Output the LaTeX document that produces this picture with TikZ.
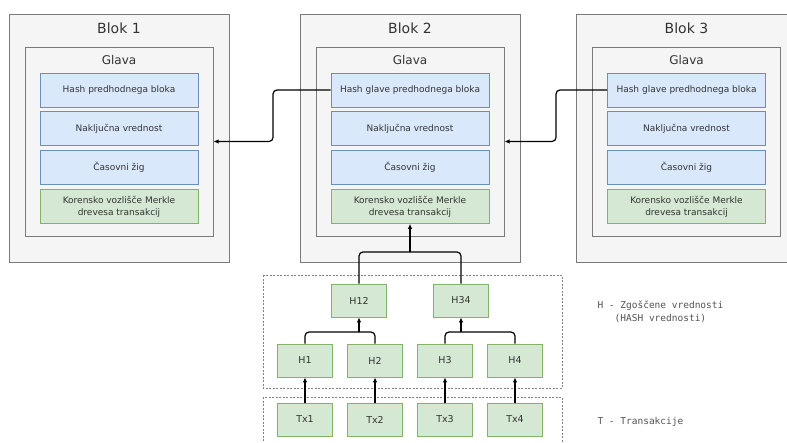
\documentclass[tikz,border=0pt]{standalone}
\usepackage{fontspec}
\setmainfont{DejaVu Sans}
\newfontfamily\legendfont{DejaVu Sans Mono}
\usetikzlibrary{positioning,arrows.meta}
\definecolor{blockgray}{HTML}{F5F5F5}
\definecolor{blockline}{HTML}{7A7A7A}
\definecolor{hashblue}{HTML}{DAE8FC}
\definecolor{hashline}{HTML}{6C8EBF}
\definecolor{leafgreen}{HTML}{D5E8D4}
\definecolor{leafline}{HTML}{82B366}
\definecolor{textgray}{HTML}{333333}
\tikzset{
    block/.style={draw=blockline,fill=blockgray,line width=1pt,minimum width=220pt,minimum height=248pt},
    header/.style={draw=blockline,fill=blockgray,line width=1pt,minimum width=188pt,minimum height=189pt},
    field/.style={draw=hashline,fill=hashblue,line width=0.8pt,minimum width=158pt,minimum height=34pt,inner sep=1pt,text=textgray,font=\fontsize{9}{12}\selectfont},
    root/.style={field,draw=leafline,fill=leafgreen,align=center},
    leaf/.style={draw=leafline,fill=leafgreen,line width=0.8pt,minimum width=55pt,minimum height=33pt,text=textgray,font=\fontsize{9.5}{11}\selectfont},
    title/.style={text=textgray,font=\fontsize{14}{16}\selectfont},
    subtitle/.style={text=textgray,font=\fontsize{12}{14}\selectfont},
    wire/.style={line width=1.2pt,rounded corners=4pt},
    link/.style={wire,-{Latex[length=5pt,width=4.5pt]}},
    group/.style={draw=gray,dash pattern=on 2pt off 1.5pt,line width=0.6pt},
    legend/.style={text=textgray!85,font=\legendfont\fontsize{9.5}{13}\selectfont,align=center}
}

\begin{document}
\begin{tikzpicture}[x=1pt,y=-1pt]
    \useasboundingbox (0,0) rectangle (787,442);
    \clip (0,0) rectangle (787,442);

    % blocks with their headers
    \foreach \i/\cx/\hashtext in {1/119/Hash predhodnega bloka,2/410/Hash glave predhodnega bloka,3/686.5/Hash glave predhodnega bloka}{
        \node[block] (b\i) at (\cx,138) {};
        \node[title] (t\i) at (\cx,28) {Blok \i};
        \node[header] (g\i) at (\cx,141.5) {};
        \node[subtitle] (gt\i) at (\cx,60) {Glava};
        \node[field] (hash\i) at (\cx,90) {\hashtext};
        \node[field, below=4pt of hash\i] (nonce\i) {Naključna vrednost};
        \node[field, below=4pt of nonce\i] (time\i) {Časovni žig};
        \node[root, below=4pt of time\i] (root\i) {Korensko vozlišče Merkle\\drevesa transakcij};
    }

    \coordinate (bend12) at (273,115);
    \coordinate (bend23) at (556,115);
    \draw[link] (hash2.west) -| (bend12) |- (g1.east);
    \draw[link] (hash3.west) -| (bend23) |- (g2.east);

    % merkle tree
    \draw[group] (263,275) rectangle (562,388);
    \draw[group] (263,397) rectangle (562,450);

    \node[leaf] (h12) at (359,300.5) {H12};
    \node[leaf] (h34) at (461,300.5) {H34};
    \node[leaf] (h1) at (305,360.5) {H1};
    \node[leaf] (h2) at (375,360.5) {H2};
    \node[leaf] (h3) at (445,360.5) {H3};
    \node[leaf] (h4) at (515,360.5) {H4};
    \node[leaf] (tx1) at (305,419.5) {Tx1};
    \node[leaf] (tx2) at (375,419.5) {Tx2};
    \node[leaf] (tx3) at (445,419.5) {Tx3};
    \node[leaf] (tx4) at (515,419.5) {Tx4};

    \coordinate (j0) at (410,252);
    \coordinate (j12) at (359,332);
    \coordinate (j34) at (461,332);
    \draw[wire] (h12.north) |- (j0) -| (h34.north);
    \draw[link] (j0) -- (root2.south);
    \draw[wire] (h1.north) |- (j12) -| (h2.north);
    \draw[link] (j12) -- (h12.south);
    \draw[wire] (h3.north) |- (j34) -| (h4.north);
    \draw[link] (j34) -- (h34.south);
    \foreach \n in {1,2,3,4}
        \draw[link] (tx\n.north) -- (h\n.south);

    \node[legend, anchor=west] (lh) at (594,312) {H - Zgoščene vrednosti\\(HASH vrednosti)};
    \node[legend, anchor=west] (lt) at (594,422) {T - Transakcije};
\end{tikzpicture}
\end{document}
